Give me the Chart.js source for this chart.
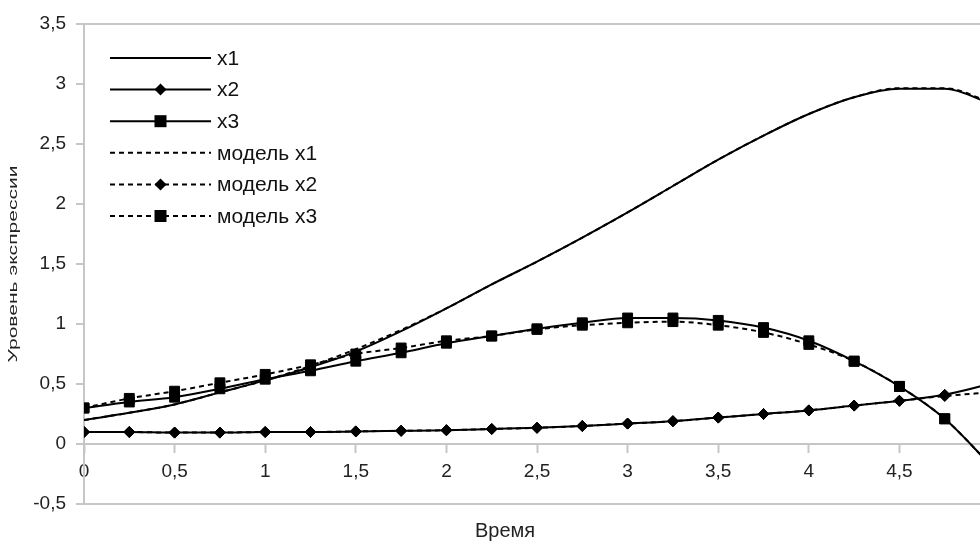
<!DOCTYPE html>
<html>
<head>
<meta charset="utf-8">
<script src="https://cdn.jsdelivr.net/npm/chart.js@4"></script>
<style>
  html, body { margin: 0; padding: 0; background: #fff; overflow: hidden; }
  #wrap { width: 1010px; height: 541px; }
</style>
</head>
<body>
<div id="wrap"><canvas id="expressionChart"></canvas></div>
<script>
// time points
const times = [0, 0.25, 0.5, 0.75, 1, 1.25, 1.5, 1.75, 2, 2.25, 2.5, 2.75, 3, 3.25, 3.5, 3.75, 4, 4.25, 4.5, 4.75, 5];

// measured
const x1 = [0.20, 0.26, 0.33, 0.43, 0.53, 0.64, 0.77, 0.94, 1.13, 1.33, 1.52, 1.72, 1.93, 2.15, 2.37, 2.57, 2.75, 2.89, 2.96, 2.96, 2.84];
const x2 = [0.10, 0.10, 0.095, 0.095, 0.10, 0.10, 0.105, 0.11, 0.115, 0.125, 0.135, 0.15, 0.17, 0.19, 0.22, 0.25, 0.28, 0.32, 0.36, 0.41, 0.50];
const x3 = [0.30, 0.35, 0.39, 0.46, 0.54, 0.61, 0.69, 0.76, 0.84, 0.90, 0.96, 1.01, 1.05, 1.05, 1.03, 0.97, 0.86, 0.69, 0.48, 0.21, -0.17];

// model
const m1 = [0.20, 0.26, 0.33, 0.43, 0.53, 0.65, 0.79, 0.95, 1.13, 1.33, 1.52, 1.72, 1.93, 2.15, 2.37, 2.57, 2.75, 2.89, 2.965, 2.965, 2.85];
const m2 = [0.10, 0.10, 0.095, 0.095, 0.10, 0.10, 0.105, 0.11, 0.115, 0.125, 0.135, 0.15, 0.17, 0.19, 0.22, 0.25, 0.28, 0.32, 0.36, 0.40, 0.43];
const m3 = [0.30, 0.38, 0.44, 0.51, 0.58, 0.66, 0.75, 0.80, 0.86, 0.90, 0.955, 0.99, 1.01, 1.02, 0.99, 0.93, 0.83, 0.69, 0.48, 0.21, -0.17];

const seriesNames = ["x1", "x2", "x3", "модель x1", "модель x2", "модель x3"];
const yTitle = "Уровень экспрессии";
const xTitle = "Время";

const FONT = "'Liberation Sans', Arial, sans-serif";
const AXIS_GRAY = "#c6c6c6";

function pts(ys) {
  return times.map((t, i) => ({ x: t, y: ys[i] }));
}

function series(label, ys, marker, dashed) {
  return {
    label: label,
    data: pts(ys),
    borderColor: "#000",
    backgroundColor: "#000",
    borderWidth: 2,
    borderDash: dashed ? [5, 4] : [],
    pointStyle: marker || "circle",
    pointRadius: marker === "rect" ? 7 : (marker === "rectRot" ? 5.5 : 0),
    pointBorderWidth: 1,
    pointHoverRadius: 0,
    cubicInterpolationMode: "monotone",
    fill: false,
  };
}

// legend drawn inside the plot area, like the original
const insideLegend = {
  id: "insideLegend",
  afterDraw(chart) {
    const ctx = chart.ctx;
    const left = chart.chartArea.left + 26;
    const lineLen = 101;
    const top = 58;
    const step = 31.6;
    ctx.save();
    chart.data.datasets.forEach((ds, i) => {
      const y = top + i * step;
      ctx.strokeStyle = "#000";
      ctx.lineWidth = 2;
      ctx.setLineDash(ds.borderDash);
      ctx.beginPath();
      ctx.moveTo(left, y);
      ctx.lineTo(left + lineLen, y);
      ctx.stroke();
      ctx.setLineDash([]);
      const cx = left + lineLen / 2;
      ctx.fillStyle = "#000";
      if (ds.pointStyle === "rect") {
        ctx.fillRect(cx - 6, y - 6, 12, 12);
      } else if (ds.pointStyle === "rectRot") {
        ctx.beginPath();
        ctx.moveTo(cx, y - 6);
        ctx.lineTo(cx + 6, y);
        ctx.lineTo(cx, y + 6);
        ctx.lineTo(cx - 6, y);
        ctx.closePath();
        ctx.fill();
      }
      ctx.fillStyle = "#111";
      ctx.font = "21px " + FONT;
      ctx.textBaseline = "middle";
      ctx.textAlign = "left";
      ctx.fillText(ds.label, left + lineLen + 6, y + 1);
    });

    // vertical axis title (stretched along its length as in the original)
    ctx.font = "13px " + FONT;
    const w = ctx.measureText(yTitle).width;
    ctx.translate(13, 264);
    ctx.rotate(-Math.PI / 2);
    ctx.scale(197 / w, 1);
    ctx.textAlign = "center";
    ctx.textBaseline = "middle";
    ctx.fillStyle = "#222";
    ctx.fillText(yTitle, 0, 0);
    ctx.restore();
  },
};

const ctx = document.getElementById("expressionChart").getContext("2d");
const chart = new Chart(ctx, {
  type: "line",
  data: {
    datasets: [
      series(seriesNames[0], x1, null, false),
      series(seriesNames[1], x2, "rectRot", false),
      series(seriesNames[2], x3, "rect", false),
      series(seriesNames[3], m1, null, true),
      series(seriesNames[4], m2, "rectRot", true),
      series(seriesNames[5], m3, "rect", true),
    ],
  },
  options: {
    responsive: true,
    maintainAspectRatio: false,
    animation: false,
    events: [],
    layout: { padding: { top: 24, left: 0, right: 0, bottom: 0 } },
    plugins: {
      legend: { display: false },
      tooltip: { enabled: false },
      title: {
        display: true,
        position: "bottom",
        text: xTitle,
        color: "#222",
        font: { family: FONT, size: 20, weight: "normal", lineHeight: 1 },
        padding: { top: 17, bottom: 0 },
      },
    },
    scales: {
      x: {
        type: "linear",
        position: { y: 0 },
        min: 0,
        max: 5.066,
        ticks: {
          stepSize: 0.5,
          includeBounds: false,
          autoSkip: false,
          maxRotation: 0,
          padding: 8,
          color: "#222",
          font: { family: FONT, size: 19 },
          callback: (v) => String(v).replace(".", ","),
        },
        grid: {
          drawOnChartArea: false,
          tickLength: 8,
          tickColor: AXIS_GRAY,
          tickWidth: 2,
        },
        border: { color: AXIS_GRAY, width: 2 },
      },
      y: {
        min: -0.5,
        max: 3.5,
        afterFit(scale) {
          scale.width = 84;
        },
        ticks: {
          stepSize: 0.5,
          padding: 10,
          color: "#222",
          font: { family: FONT, size: 19 },
          callback: (v) => String(v).replace(".", ","),
        },
        grid: {
          tickLength: 8,
          lineWidth: 2,
          tickWidth: 2,
          tickColor: AXIS_GRAY,
          color: (c) => (c.tick && (c.tick.value === 3.5 || c.tick.value === -0.5) ? AXIS_GRAY : "rgba(0,0,0,0)"),
        },
        border: { color: AXIS_GRAY, width: 2 },
      },
    },
  },
  plugins: [insideLegend],
});
</script>
</body>
</html>
